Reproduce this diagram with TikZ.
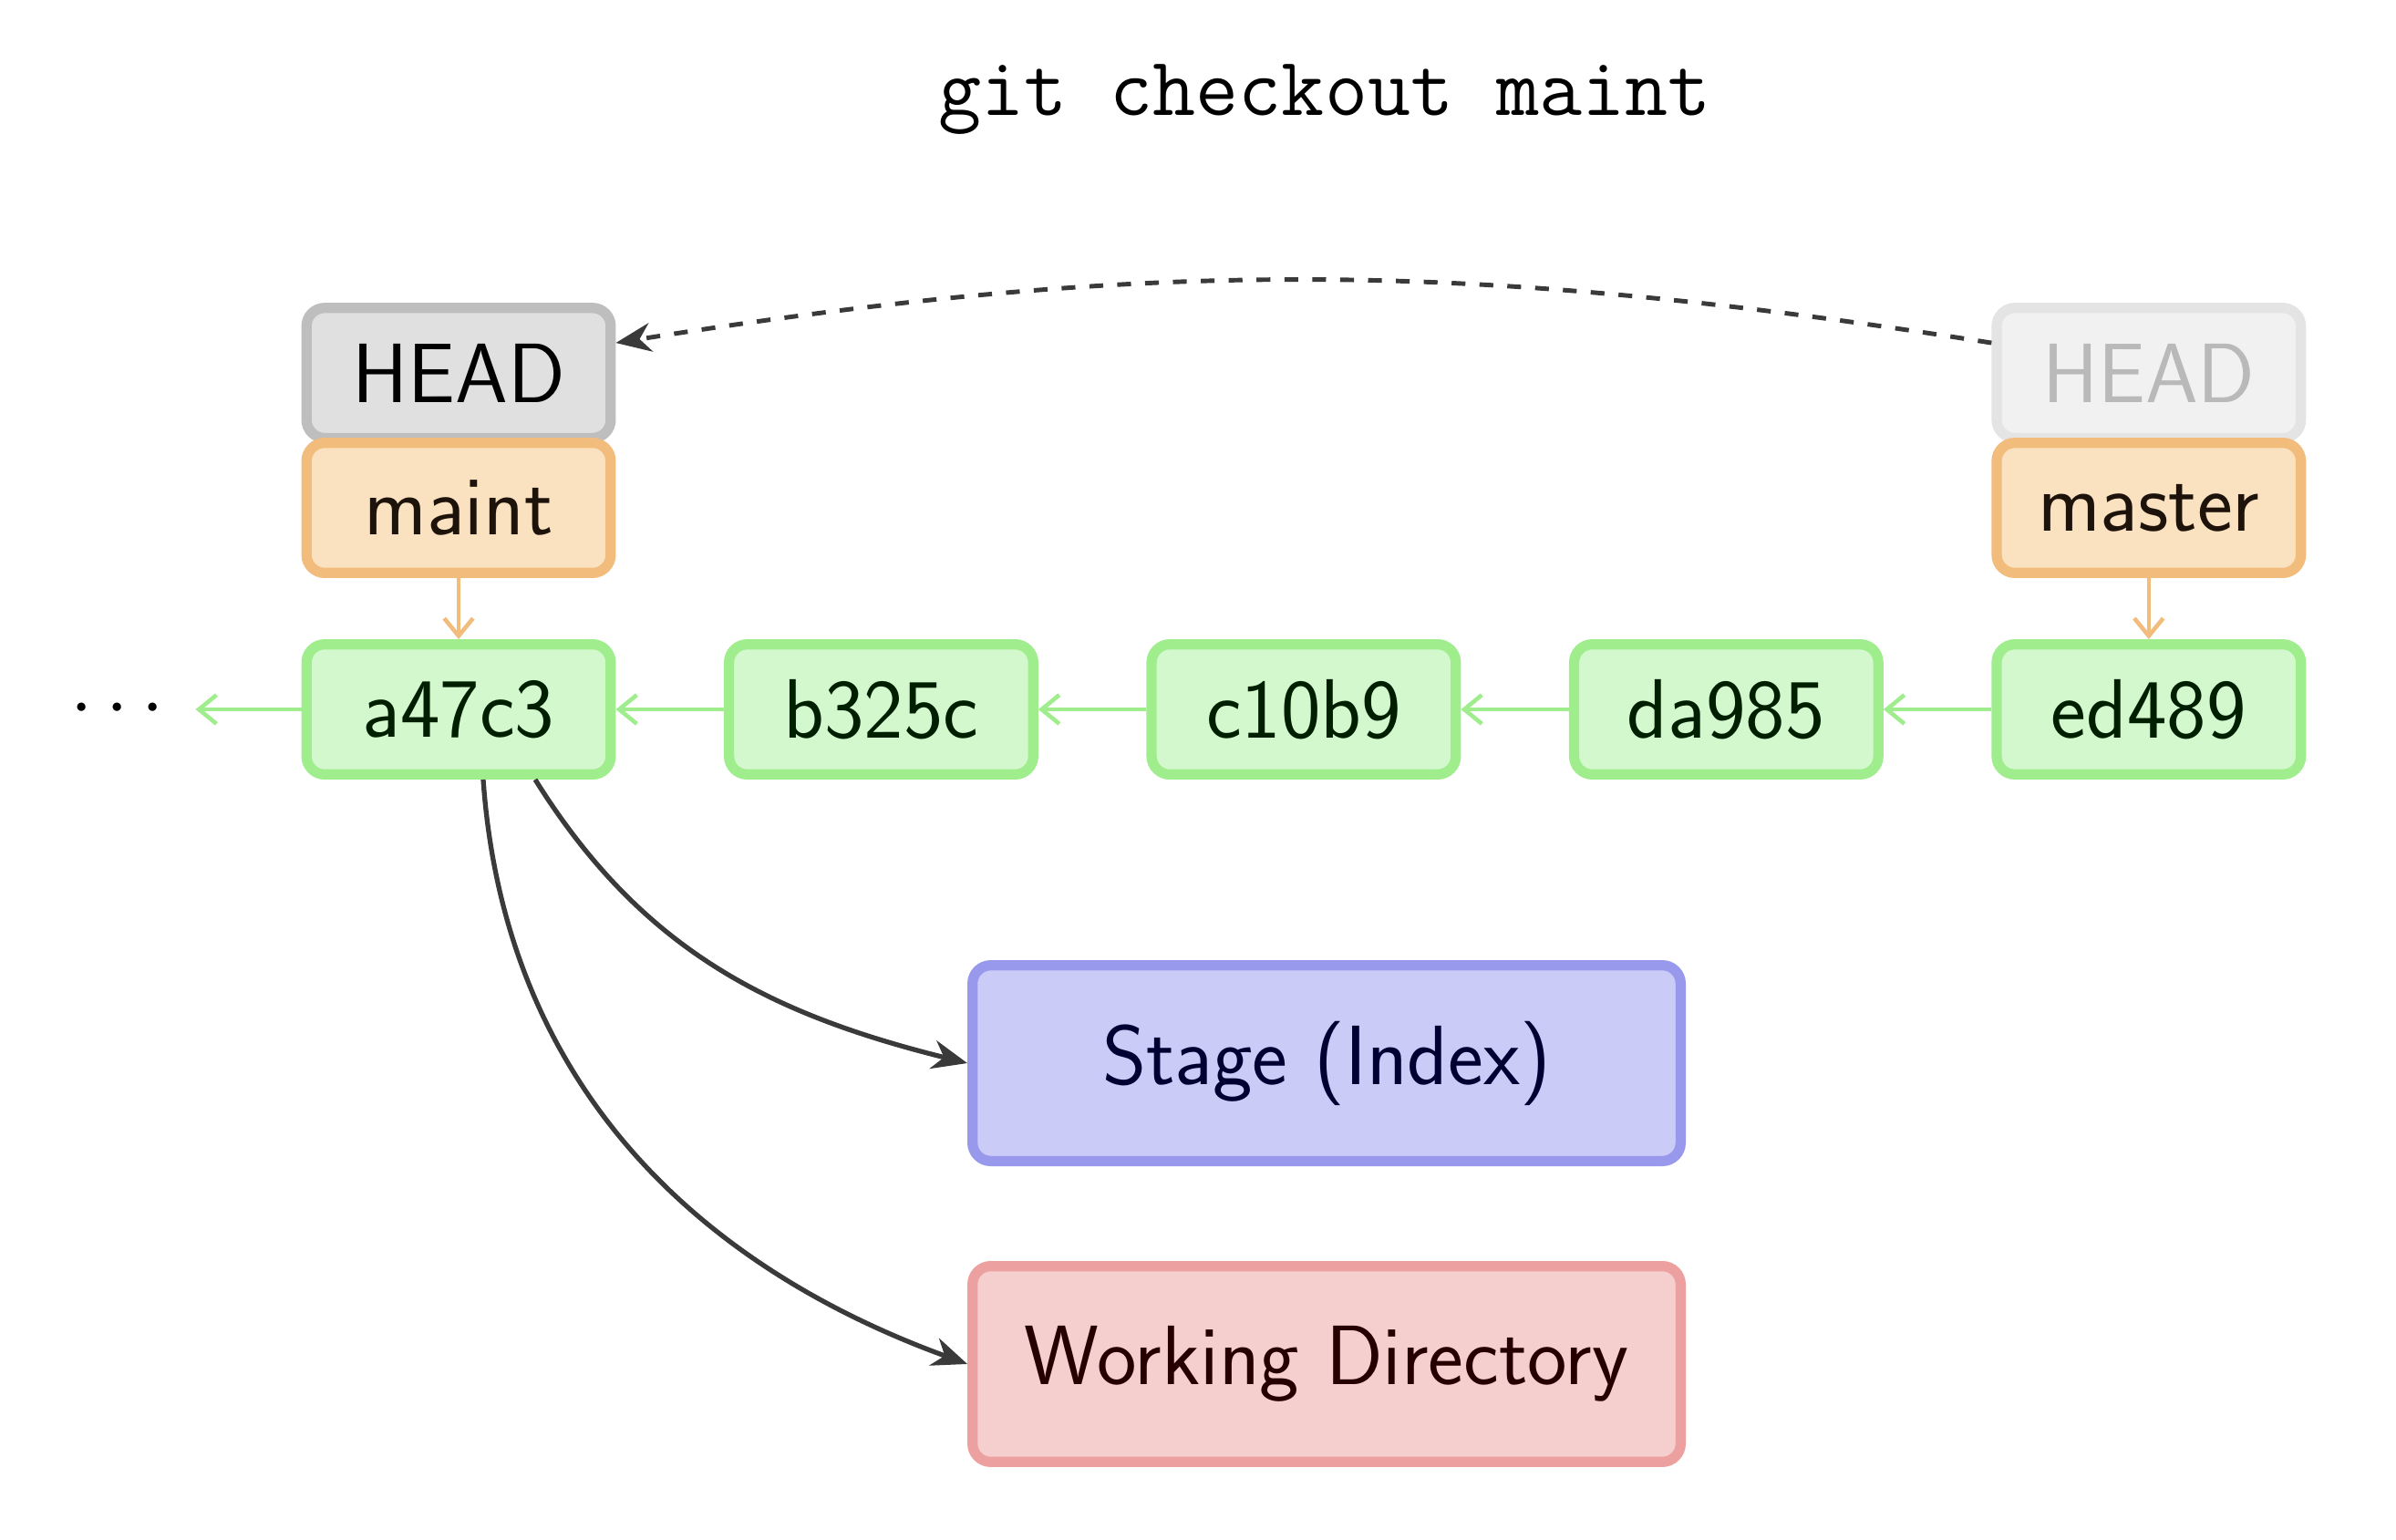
\documentclass[tikz,border=0pt]{standalone}
\usepackage{fontspec}
\usetikzlibrary{arrows.meta, positioning}
\definecolor{headgray}{RGB}{224, 224, 224}
\definecolor{headedge}{RGB}{190, 190, 190}
\definecolor{oldgray}{RGB}{241, 241, 241}
\definecolor{oldedge}{RGB}{228, 228, 228}
\definecolor{oldtext}{RGB}{185, 185, 185}
\definecolor{branchfill}{RGB}{250, 225, 192}
\definecolor{branchedge}{RGB}{242, 188, 124}
\definecolor{commitfill}{RGB}{212, 248, 206}
\definecolor{commitedge}{RGB}{160, 237, 142}
\definecolor{stagefill}{RGB}{203, 203, 247}
\definecolor{stageedge}{RGB}{152, 152, 236}
\definecolor{workfill}{RGB}{245, 206, 206}
\definecolor{workedge}{RGB}{236, 160, 160}
\definecolor{darkarrow}{RGB}{58, 58, 58}

\begin{document}
\begin{tikzpicture}[
    node distance=1.185cm,
    box/.style={rectangle, rounded corners=0.2cm, line width=3.2pt, minimum width=3.337cm, minimum height=1.427cm, inner sep=0pt, text centered, font=\sffamily\fontsize{26.3}{30}\selectfont},
    commit/.style={box, draw=commitedge, fill=commitfill, text=black!80!green!60!black},
    branch/.style={box, draw=branchedge, fill=branchfill, text=black!85!brown},
    headbox/.style={box, draw=headedge, fill=headgray, text=black},
    oldhead/.style={box, draw=oldedge, fill=oldgray, text=oldtext},
    area/.style={box, minimum width=7.767cm, minimum height=2.147cm},
    parentarrow/.style={line width=1.3pt, commitedge, -{Straight Barb[length=5.5pt, width=9pt]}},
    refarrow/.style={line width=1.3pt, branchedge, -{Straight Barb[length=5.5pt, width=9pt]}},
    headmove/.style={line width=1.4pt, darkarrow, dash pattern=on 4.3pt off 4.4pt, -{Stealth[length=11pt, width=9pt, inset=3.5pt]}},
    treearrow/.style={line width=1.5pt, darkarrow, -{Stealth[length=11pt, width=9pt, inset=3.5pt]}}
]
\useasboundingbox (0,0) rectangle (26.28,-16.88);

\node (cmd) at (14.53,-1.09) {\ttfamily\fontsize{26}{30}\selectfont git checkout maint};

\node (a47c3) [commit] at (5.03,-7.78) {a47c3};
\node (b325c) [commit, right=of a47c3] {b325c};
\node (c10b9) [commit, right=of b325c] {c10b9};
\node (da985) [commit, right=of c10b9] {da985};
\node (ed489) [commit, right=of da985] {ed489};

\node (dots) [left=1.16cm of a47c3, inner sep=0.34cm, font=\fontsize{24}{28}\selectfont] {$\cdots$};

\node (headL) [headbox, above=2.15cm of a47c3] {HEAD};
\node (maint) [branch, below=-0.06cm of headL] {maint};

\node (headR) [oldhead, above=2.15cm of ed489] {HEAD};
\node (master) [branch, below=-0.06cm of headR] {master};

\node (stage) [area, draw=stageedge, fill=stagefill, text=black!80!blue] at (14.55,-11.66) {Stage (Index)};
\node (work) [area, draw=workedge, fill=workfill, text=black!85!red, below=1.04cm of stage] {Working Directory};

\draw[parentarrow] (a47c3) -- (dots);
\draw[parentarrow] (b325c) -- (a47c3);
\draw[parentarrow] (c10b9) -- (b325c);
\draw[parentarrow] (da985) -- (c10b9);
\draw[parentarrow] (ed489) -- (da985);

\draw[refarrow] (maint) -- (a47c3);
\draw[refarrow] (master) -- (ed489);

\draw[headmove] ([yshift=0.33cm]headR.west) to[bend right=9] ([yshift=0.33cm]headL.east);

\draw[treearrow] ([xshift=0.84cm]a47c3.south) to[out=-58, in=166] (stage.west);
\draw[treearrow] ([xshift=0.27cm]a47c3.south) to[out=-86, in=160] (work.west);

\end{tikzpicture}
\end{document}
